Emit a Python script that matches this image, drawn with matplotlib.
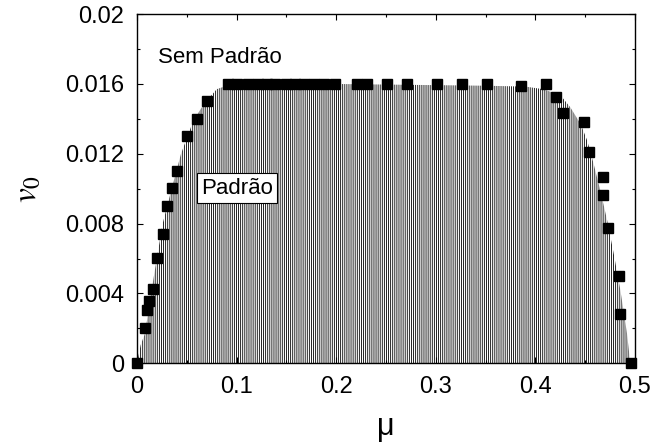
import matplotlib
matplotlib.use('Agg')
import matplotlib.pyplot as plt

# squares: simulation points (mu, v0)
mu_pts = [0.0, 0.008, 0.0103, 0.0123, 0.0158, 0.0204, 0.0258, 0.0304, 0.0354, 0.0405,
          0.0499, 0.0602, 0.0706,
          0.0914, 0.1008, 0.111, 0.121, 0.131, 0.139, 0.150, 0.159, 0.168, 0.178, 0.188, 0.199,
          0.2205, 0.2306, 0.2507, 0.2708, 0.3009, 0.326, 0.351, 0.386, 0.411,
          0.4207, 0.428, 0.449, 0.454, 0.468, 0.468, 0.473, 0.484, 0.485, 0.4956]
v_pts = [0.0, 0.00202, 0.00305, 0.00359, 0.00424, 0.00602, 0.00739, 0.00901, 0.01003, 0.0110,
         0.0130, 0.0140, 0.0150,
         0.016, 0.016, 0.016, 0.016, 0.016, 0.016, 0.016, 0.016, 0.016, 0.016, 0.016, 0.016,
         0.016, 0.016, 0.016, 0.016, 0.016, 0.016, 0.016, 0.0159, 0.016,
         0.01528, 0.01433, 0.0138, 0.0121, 0.0107, 0.00964, 0.00774, 0.00502, 0.00283, 0.0]

# boundary of the patterned region
mu_edge = [0.0, 0.0037, 0.008, 0.0164, 0.0258, 0.0348, 0.0442, 0.0566, 0.0666, 0.080,
           0.09, 0.2, 0.35, 0.39, 0.408, 0.4253, 0.435, 0.4455, 0.452, 0.4585,
           0.4652, 0.472, 0.4786, 0.4853, 0.492, 0.4953]
v_edge = [0.0, 0.00105, 0.0017, 0.0048, 0.0080, 0.0100, 0.0120, 0.0139, 0.0148, 0.0157,
          0.0159, 0.0160, 0.0159, 0.01585, 0.0157, 0.01534, 0.01467, 0.0137, 0.01276, 0.01142,
          0.0099, 0.0082, 0.0063, 0.0042, 0.0017, 0.0]

xticks = [0, 0.1, 0.2, 0.3, 0.4, 0.5]
xlabels = ['0', '0.1', '0.2', '0.3', '0.4', '0.5']
yticks = [0, 0.004, 0.008, 0.012, 0.016, 0.02]
ylabels = ['0', '0.004', '0.008', '0.012', '0.016', '0.02']

plt.rcParams['font.family'] = ['Liberation Sans', 'DejaVu Sans']
plt.rcParams['mathtext.fontset'] = 'stix'
plt.rcParams['hatch.linewidth'] = 0.6

fig = plt.figure(figsize=(6.57, 4.42), dpi=100)
ax = fig.add_axes([0.2085, 0.178, 0.758, 0.79])

ax.fill_between(mu_edge, v_edge, 0, facecolor='white', edgecolor='black',
                linewidth=0, hatch='||||||||')
ax.plot(mu_pts, v_pts, 's', color='black', markersize=6.5, clip_on=False, zorder=5)

ax.text(0.021, 0.0175, 'Sem Padrão', fontsize=16, ha='left', va='center')
ax.text(0.1004, 0.01002, 'Padrão', fontsize=16, ha='center', va='center',
        bbox=dict(boxstyle='square,pad=0.2', facecolor='white', edgecolor='black', linewidth=0.8))

ax.set_xlim(0, 0.5)
ax.set_ylim(0, 0.02)
ax.set_xticks(xticks)
ax.set_xticklabels(xlabels)
ax.set_yticks(yticks)
ax.set_yticklabels(ylabels)
ax.set_xticks([0.05, 0.15, 0.25, 0.35, 0.45], minor=True)
ax.set_yticks([0.002, 0.006, 0.010, 0.014, 0.018], minor=True)
ax.tick_params(which='both', direction='in', top=True, right=True, labelsize=17, width=0.8)
ax.tick_params(which='major', length=4.5, pad=9)
ax.tick_params(which='minor', length=2.2)
for s in ax.spines.values():
    s.set_linewidth(1.0)

ax.set_xlabel('μ', fontsize=22, labelpad=10)
ax.set_ylabel(r'$v_0$', fontsize=24, labelpad=16)

plt.savefig('out.png', dpi=100)
plt.close()
